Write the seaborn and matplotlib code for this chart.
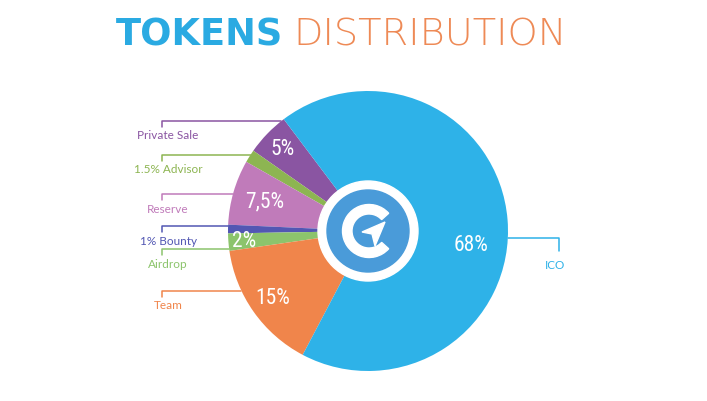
import numpy as np
import matplotlib.pyplot as plt
import seaborn as sns
from matplotlib import font_manager
from matplotlib.patches import Circle, Wedge, Polygon

# slices, drawn counter-clockwise from the top-left edge of the ICO slice
names = ["Private Sale", "1.5% Advisor", "Reserve", "1% Bounty", "Airdrop", "Team", "ICO"]
shares = [5, 1.5, 7.5, 1, 2, 15, 68]
pct_text = ["5%", "", "7,5%", "", "2%", "15%", "68%"]
colors = ["#8A55A2", "#8DB552", "#C07BBA", "#5257B3", "#8CC46C", "#F0854B", "#2EB2E8"]

W, H = 707, 402
sns.set_theme(style="white")


def pick_font(cands):
    for c in cands:
        try:
            font_manager.findfont(c, fallback_to_default=False)
            return c
        except Exception:
            pass
    return "DejaVu Sans"


narrow = pick_font(["Liberation Sans Narrow", "Roboto Condensed", "DejaVu Sans"])
plt.rcParams["font.family"] = ["Lato", "DejaVu Sans"]

fig = plt.figure(figsize=(W / 100, H / 100), dpi=100)
ax = fig.add_axes([0, 0, 1, 1])


def py(y):
    # pixel row -> data y
    return H - y


cx, cy, R = 368, py(232), 140
wedges, _ = ax.pie(shares, colors=colors, startangle=127, counterclock=True,
                   center=(cx, cy), radius=R, wedgeprops=dict(linewidth=0))
ax.set_xlim(0, W)
ax.set_ylim(0, H)
ax.set_aspect("equal")
ax.axis("off")

# percent labels inside the slices
pct_radius = [0.85, 0, 0.77, 0, 0.89, 0.83, 0.74]
pct_shift = [0, 0, 0, 0, 0, 0, -12]
for w, t, rf, sh in zip(wedges, pct_text, pct_radius, pct_shift):
    if not t:
        continue
    a = np.deg2rad((w.theta1 + w.theta2) / 2 + sh)
    ax.text(cx + rf * R * np.cos(a), cy + rf * R * np.sin(a), t, color="white",
            fontsize=15.5, family=narrow, ha="center", va="center")

# leader lines with labels
leader_angle = [128.2, 147, 164.7, 178, 187.5, 205.2, -2.9]
for w, name, ang, col in zip(wedges, names, leader_angle, colors):
    a = np.deg2rad(ang)
    x0, y0 = cx + R * np.cos(a), cy + R * np.sin(a)
    if name == "ICO":
        xe = 559
        ax.plot([x0, xe, xe], [y0, y0, y0 - 13], color=col, lw=1.1)
        ax.text(xe - 4, y0 - 26, name, color=col, fontsize=8.5, ha="center", va="center")
    else:
        xe = 162
        ax.plot([x0, xe, xe], [y0, y0, y0 - 6], color=col, lw=1.1)
        ax.text(xe + 6, y0 - 14, name, color=col, fontsize=8.5, ha="center", va="center")

# center logo
ax.add_patch(Circle((cx, cy), 50, color="white", zorder=3))
ax.add_patch(Circle((cx, cy), 41, color="#4A9BD9", zorder=4))
ax.add_patch(Wedge((cx + 1, cy), 26.5, 42, 318, width=9.5, color="white", zorder=5))
plane = [(385, 223), (362, 233), (372, 235), (375, 247)]
ax.add_patch(Polygon([(x, py(y)) for x, y in plane], closed=True, color="white", zorder=5))

# title
fig.text(116 / W, 1 - 35 / H, "TOKENS", color="#2AAAE2", fontsize=26.5, fontweight="heavy",
         family="DejaVu Sans", ha="left", va="center")
fig.text(293 / W, 1 - 35 / H, "DISTRIBUTION", color="#EE8A56", fontsize=27.6, fontweight="light",
         family="DejaVu Sans", ha="left", va="center")

fig.savefig("out.png", dpi=100)
